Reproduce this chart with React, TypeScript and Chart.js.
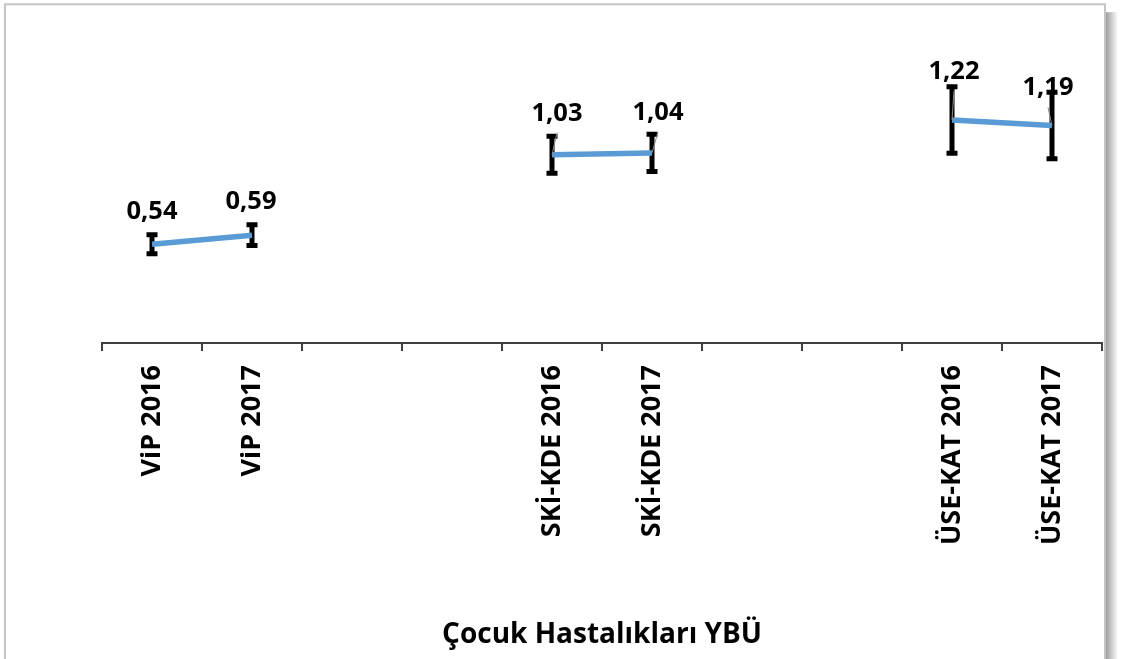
import React, { useEffect, useRef } from "react";
import { Chart, registerables } from "chart.js";

Chart.register(...registerables);

const categories = [
  "ViP 2016",
  "ViP 2017",
  "",
  "",
  "SKİ-KDE 2016",
  "SKİ-KDE 2017",
  "",
  "",
  "ÜSE-KAT 2016",
  "ÜSE-KAT 2017",
];
const values: (number | null)[] = [0.54, 0.59, null, null, 1.03, 1.04, null, null, 1.22, 1.19];
const errors: (number | null)[] = [0.06, 0.065, null, null, 0.11, 0.11, null, null, 0.19, 0.19];
const axisTitle = "Çocuk Hastalıkları YBÜ";

// label placement offsets (px) relative to the point, and whether a leader line is drawn
const labelOffsets: [number, number, boolean][] = [
  [0, -34, false],
  [-1, -35, false],
  [0, 0, false],
  [0, 0, false],
  [5, -43, true],
  [6, -42, true],
  [0, 0, false],
  [0, 0, false],
  [2, -50, true],
  [-4, -39, true],
];

const FONT = "'Open Sans', sans-serif";

const framePlugin = {
  id: "frame",
  beforeDraw(chart: any) {
    const ctx = chart.ctx;
    ctx.save();
    ctx.fillStyle = "#ffffff";
    ctx.fillRect(0, 0, chart.width, chart.height);
    const g = ctx.createLinearGradient(1106, 0, 1118, 0);
    g.addColorStop(0, "rgba(0,0,0,0.38)");
    g.addColorStop(1, "rgba(0,0,0,0)");
    ctx.fillStyle = g;
    ctx.fillRect(1106, 12, 12, chart.height);
    const g2 = ctx.createLinearGradient(0, 4, 0, 14);
    g2.addColorStop(0, "rgba(255,255,255,1)");
    g2.addColorStop(1, "rgba(255,255,255,0)");
    ctx.fillStyle = g2;
    ctx.fillRect(1106, 4, 12, 10);
    ctx.strokeStyle = "#c4c4c4";
    ctx.lineWidth = 2;
    ctx.strokeRect(5, 4.3, 1100, chart.height + 20);
    ctx.restore();
  },
};

const errorBarPlugin = {
  id: "errorBars",
  beforeDatasetsDraw(chart: any) {
    const ctx = chart.ctx;
    const x = chart.scales.x;
    const y = chart.scales.y;
    ctx.save();
    ctx.strokeStyle = "#000000";
    ctx.lineCap = "butt";
    values.forEach((v, i) => {
      const e = errors[i];
      if (v == null || e == null) return;
      const px = x.getPixelForValue(i);
      const top = y.getPixelForValue(v + e);
      const bot = y.getPixelForValue(v - e);
      ctx.lineWidth = 5;
      ctx.beginPath();
      ctx.moveTo(px, top);
      ctx.lineTo(px, bot);
      ctx.stroke();
      ctx.lineWidth = 5;
      ctx.beginPath();
      ctx.moveTo(px - 5.5, top + 1.5);
      ctx.lineTo(px + 5.5, top + 1.5);
      ctx.moveTo(px - 5.5, bot - 1.5);
      ctx.lineTo(px + 5.5, bot - 1.5);
      ctx.stroke();
    });
    ctx.restore();
  },
};

const labelPlugin = {
  id: "dataLabels",
  afterDatasetsDraw(chart: any) {
    const ctx = chart.ctx;
    const x = chart.scales.x;
    const y = chart.scales.y;
    ctx.save();
    values.forEach((v, i) => {
      if (v == null) return;
      const px = x.getPixelForValue(i);
      const py = y.getPixelForValue(v);
      const [dx, dy, leader] = labelOffsets[i];
      const lx = px + dx;
      const ly = py + dy;
      if (leader) {
        ctx.strokeStyle = "#8c8c8c";
        ctx.lineWidth = 1;
        ctx.beginPath();
        ctx.moveTo(lx, ly + 21);
        ctx.lineTo(px, py);
        ctx.stroke();
      }
      ctx.fillStyle = "#000000";
      ctx.font = `bold 25.5px ${FONT}`;
      ctx.textAlign = "center";
      ctx.textBaseline = "alphabetic";
      ctx.fillText(v.toFixed(2).replace(".", ","), lx, ly + 9);
    });
    ctx.restore();
  },
};

export default function App() {
  const ref = useRef<HTMLCanvasElement | null>(null);
  useEffect(() => {
    document.body.style.margin = "0";
    if (!ref.current) return;
    const chart = new Chart(ref.current, {
      type: "line",
      data: {
        labels: categories,
        datasets: [
          {
            data: values,
            borderColor: "#5B9BD5",
            borderWidth: 5.5,
            pointRadius: 0,
            spanGaps: false,
            tension: 0,
          },
        ],
      },
      options: {
        animation: false,
        responsive: false,
        devicePixelRatio: 1,
        layout: { padding: { left: 102, right: 21, top: 14, bottom: 0 } },
        plugins: {
          legend: { display: false },
          tooltip: { enabled: false },
        },
        scales: {
          x: {
            type: "category",
            offset: true,
            afterFit(scale: any) {
              scale.height = 316;
            },
            grid: {
              offset: true,
              drawOnChartArea: false,
              drawTicks: true,
              tickLength: 8,
              color: "#404040",
              lineWidth: 2,
            },
            border: { display: true, color: "#404040", width: 2 },
            ticks: {
              autoSkip: false,
              minRotation: 90,
              maxRotation: 90,
              padding: 14,
              color: "#000000",
              font: { family: FONT, size: 27, weight: "bold" },
            },
            title: {
              display: true,
              text: axisTitle,
              color: "#000000",
              font: { family: FONT, size: 28, weight: "bold" },
              padding: { top: 0, bottom: 7 },
            },
          },
          y: {
            display: false,
            min: 0,
            max: 1.8,
          },
        },
      },
      plugins: [framePlugin, errorBarPlugin, labelPlugin],
    });
    return () => chart.destroy();
  }, []);
  return (
    <div style={{ position: "absolute", left: 0, top: 0, width: 1123, height: 659 }}>
      <canvas ref={ref} width={1123} height={659} />
    </div>
  );
}
